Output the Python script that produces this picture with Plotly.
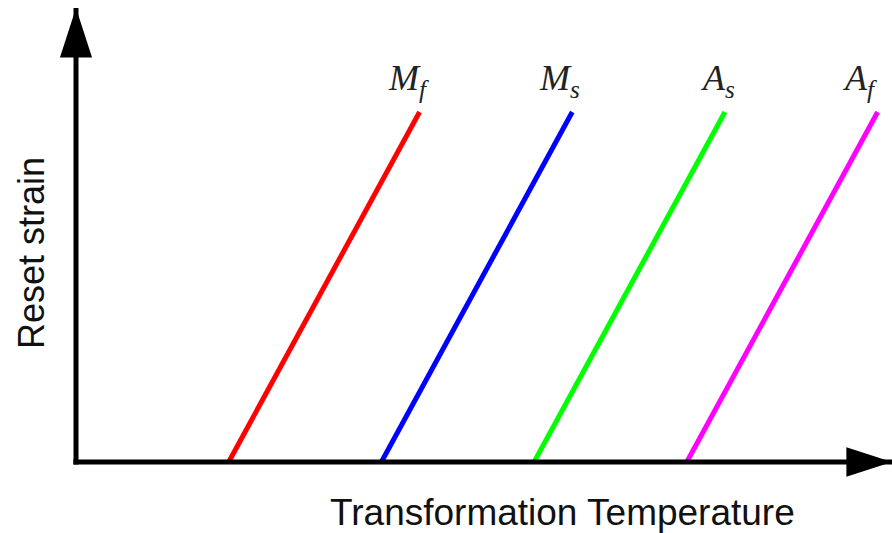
import plotly.graph_objects as go

# ---- data ----
phases = ["M_f", "M_s", "A_s", "A_f"]
phase_labels = ["<i>M</i><sub><i>f</i></sub>", "<i>M</i><sub><i>s</i></sub>",
                "<i>A</i><sub><i>s</i></sub>", "<i>A</i><sub><i>f</i></sub>"]
temp_at_zero_strain = [1.0, 2.0, 3.0, 4.0]
temp_at_max_strain = [2.25, 3.25, 4.25, 5.25]
strain_levels = [0.0, 1.0]
colors = ["#ff0000", "#0000ff", "#00ff00", "#ff00ff"]
label_xshift = [-11, -13, -7, -18]

x_axis_end = 5.344
y_axis_end = 1.297
x_range = [-0.4977, 5.344]
y_range = [-0.2029, 1.32]

fig = go.Figure()

for t0, t1, c in zip(temp_at_zero_strain, temp_at_max_strain, colors):
    fig.add_trace(go.Scatter(x=[t0, t1], y=strain_levels, mode="lines",
                             line=dict(color=c, width=5), showlegend=False,
                             hoverinfo="skip"))

# axes with arrowheads
fig.add_trace(go.Scatter(x=[-0.017, x_axis_end], y=[0, 0], mode="lines+markers",
                         line=dict(color="black", width=5, backoff=[36]),
                         marker=dict(symbol="arrow", size=[0, 48], angle=90,
                                     color="black", opacity=1, line=dict(width=0)),
                         showlegend=False, hoverinfo="skip"))
fig.add_trace(go.Scatter(x=[0, 0], y=[-0.007, y_axis_end], mode="lines+markers",
                         line=dict(color="black", width=5, backoff=[40]),
                         marker=dict(symbol="arrow", size=[0, 52], angle=0,
                                     color="black", opacity=1, line=dict(width=0)),
                         showlegend=False, hoverinfo="skip"))

for lbl, t1, dx in zip(phase_labels, temp_at_max_strain, label_xshift):
    fig.add_annotation(x=t1, y=strain_levels[-1], text=lbl, showarrow=False,
                       xanchor="center", yanchor="bottom", xshift=dx, yshift=7,
                       font=dict(family="Liberation Serif", size=36, color="#222"))

fig.add_annotation(xref="paper", yref="paper", x=562 / 892, y=1 - 512 / 533,
                   text="Transformation Temperature", showarrow=False,
                   xanchor="center", yanchor="middle",
                   font=dict(family="Liberation Sans", size=37, color="#111"))
fig.add_annotation(xref="paper", yref="paper", x=31 / 892, y=1 - 253 / 533,
                   text="Reset strain", showarrow=False, textangle=-90,
                   xanchor="center", yanchor="middle",
                   font=dict(family="Liberation Sans", size=36, color="#111"))

fig.update_layout(width=892, height=533, margin=dict(l=0, r=0, t=0, b=0),
                  paper_bgcolor="white", plot_bgcolor="white",
                  xaxis=dict(range=x_range, visible=False, fixedrange=True),
                  yaxis=dict(range=y_range, visible=False, fixedrange=True))

fig.write_html("out.html", config={"displayModeBar": False},
               post_script="document.body.style.margin='0';document.body.style.overflow='hidden';")
